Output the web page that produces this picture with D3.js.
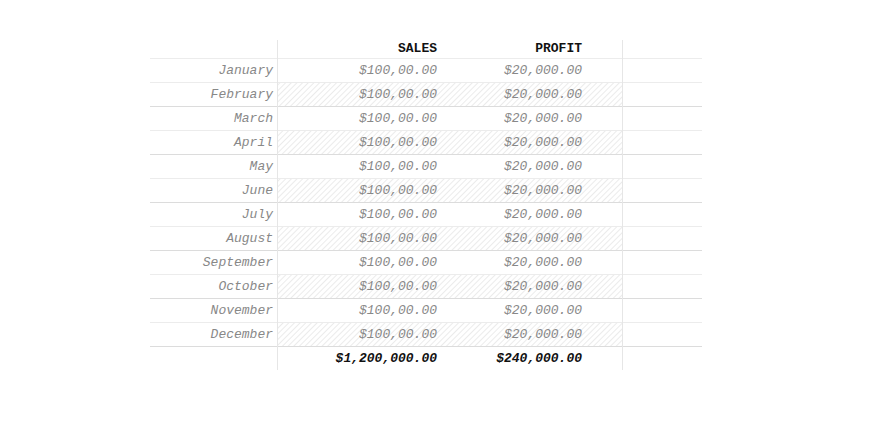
<!DOCTYPE html>
<html><head><meta charset="utf-8">
<script src="https://cdn.jsdelivr.net/npm/d3@7"></script>
<style>body{margin:0;background:#fff}</style>
</head><body>
<script>
var months = ["January","February","March","April","May","June","July","August","September","October","November","December"];
var sales = ["$100,00.00","$100,00.00","$100,00.00","$100,00.00","$100,00.00","$100,00.00","$100,00.00","$100,00.00","$100,00.00","$100,00.00","$100,00.00","$100,00.00"];
var profit = ["$20,000.00","$20,000.00","$20,000.00","$20,000.00","$20,000.00","$20,000.00","$20,000.00","$20,000.00","$20,000.00","$20,000.00","$20,000.00","$20,000.00"];
var headers = ["SALES","PROFIT"];
var totals = ["$1,200,000.00","$240,000.00"];

var W = 880, H = 440;
var left = 150, right = 702, colA = 277, colB = 622;
var top0 = 40, headH = 18, rowH = 24;
var font = "'Liberation Mono','Courier New',monospace";

var svg = d3.select("body").append("svg").attr("width", W).attr("height", H);

var defs = svg.append("defs");
var pat = defs.append("pattern").attr("id","hatch").attr("patternUnits","userSpaceOnUse")
	.attr("width",4).attr("height",4).attr("patternTransform","rotate(45)");
pat.append("line").attr("x1",0).attr("y1",0).attr("x2",0).attr("y2",4)
	.attr("stroke","#e4e4e4").attr("stroke-width",1.5);

var y = d3.scaleBand().domain(d3.range(months.length + 1)).range([top0 + headH, top0 + headH + rowH * (months.length + 1)]);
var bottom = top0 + headH + rowH * (months.length + 1);

// hatched rows
svg.selectAll("rect.hatch").data(months.filter((d, i) => i % 2 == 1 && i < months.length))
	.enter().append("rect")
	.attr("x", colA).attr("width", colB - colA)
	.attr("y", d => y(months.indexOf(d))).attr("height", rowH)
	.attr("fill","url(#hatch)");

// horizontal lines
svg.selectAll("line.h").data(d3.range(months.length + 1)).enter().append("line")
	.attr("x1", left).attr("x2", right)
	.attr("y1", d => y(d) + 0.5).attr("y2", d => y(d) + 0.5)
	.attr("stroke", d => d % 2 == 0 && d > 0 ? "#dcdcdc" : "#ececec");

[colA, colB].forEach(function(x){
	svg.append("line").attr("x1", x + 0.5).attr("x2", x + 0.5).attr("y1", top0).attr("y2", bottom)
		.attr("stroke","#e6e6e6");
});

var colX = [437, 582];

// header
svg.selectAll("text.head").data(headers).enter().append("text")
	.attr("x", (d, i) => colX[i]).attr("y", top0 + 12)
	.attr("text-anchor","end").attr("font-family", font).attr("font-size", 13)
	.attr("font-weight","bold").attr("fill","#111").text(d => d);

function addText(arr, x, color, style, weight){
	svg.append("g").selectAll("text").data(arr).enter().append("text")
		.attr("x", x).attr("y", (d, i) => y(i) + rowH / 2 + 4)
		.attr("text-anchor","end").attr("font-family", font).attr("font-size", 13)
		.attr("font-style", style).attr("font-weight", weight).attr("fill", color).text(d => d);
}
addText(months, 273, "#888", "italic", "normal");
addText(sales, colX[0], "#888", "italic", "normal");
addText(profit, colX[1], "#888", "italic", "normal");

svg.selectAll("text.tot").data(totals).enter().append("text")
	.attr("x", (d, i) => colX[i]).attr("y", y(months.length) + rowH / 2 + 4)
	.attr("text-anchor","end").attr("font-family", font).attr("font-size", 13)
	.attr("font-style","italic").attr("font-weight","bold").attr("fill","#111").text(d => d);
</script>
</body></html>
